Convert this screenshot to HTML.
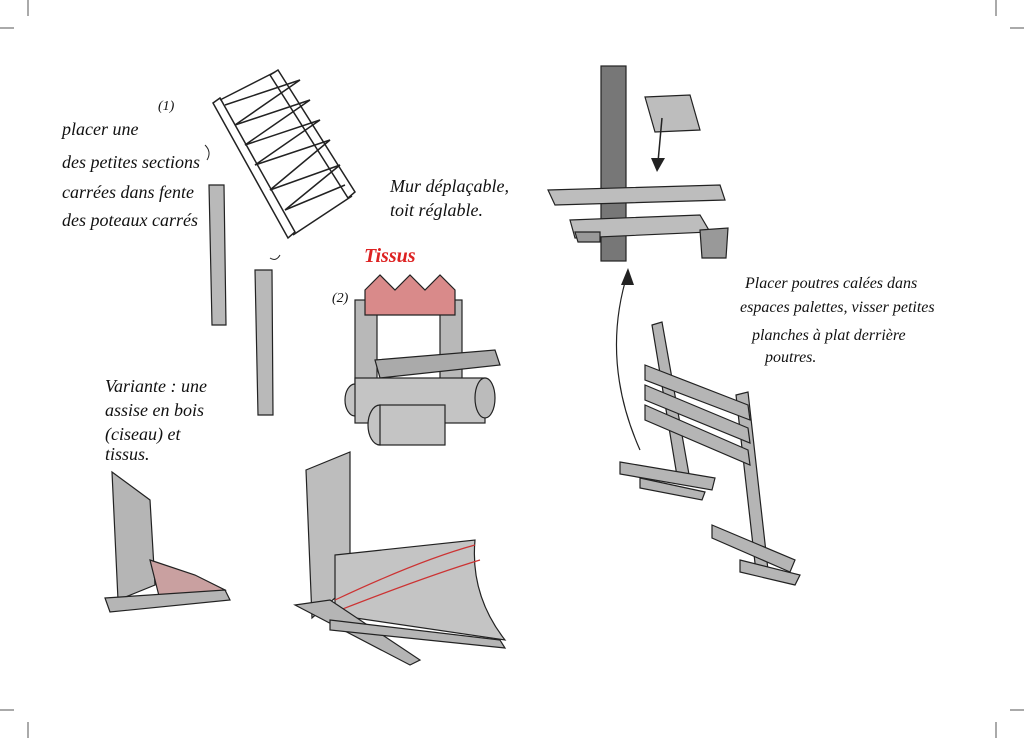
<!DOCTYPE html>
<html><head><meta charset="utf-8"><style>
html,body{margin:0;padding:0;background:#fff;width:1024px;height:738px;overflow:hidden}
svg{display:block}
text{font-family:"Liberation Serif",serif;font-style:italic;fill:#111}
</style></head><body>
<svg width="1024" height="738" viewBox="0 0 1024 738" xmlns="http://www.w3.org/2000/svg">
<rect width="1024" height="738" fill="#fff"/>
<g stroke="#555" stroke-width="1">
<line x1="28" y1="0" x2="28" y2="16"/><line x1="996" y1="0" x2="996" y2="16"/>
<line x1="0" y1="28" x2="14" y2="28"/><line x1="1010" y1="28" x2="1024" y2="28"/>
<line x1="28" y1="722" x2="28" y2="738"/><line x1="996" y1="722" x2="996" y2="738"/>
<line x1="0" y1="710" x2="14" y2="710"/><line x1="1010" y1="710" x2="1024" y2="710"/>
</g>

<g fill="none" stroke="#222" stroke-width="1.5">
<polygon points="213,103 220,98 295,232 288,238"/>
<polygon points="270,75 278,70 355,192 348,198"/>
<line x1="220" y1="100" x2="275" y2="72"/>
<line x1="293" y1="235" x2="352" y2="196"/>
<path d="M225,105 L300,80 L235,125 L310,100 L245,145 L320,120 L255,165 L330,140 L270,190 L340,165 L285,210 L345,185"/>
</g>
<text x="158" y="110" font-size="14">(1)</text>

<polygon points="209,185 224,185 226,325 212,325" fill="#b9b9b9" stroke="#222" stroke-width="1.2"/>
<polygon points="255,270 272,270 273,415 258,415" fill="#b9b9b9" stroke="#222" stroke-width="1.2"/>
<path d="M205,145 Q212,152 207,160" fill="none" stroke="#222"/>
<path d="M280,255 Q276,262 270,258" fill="none" stroke="#222"/>

<text x="332" y="302" font-size="14">(2)</text>
<g stroke="#222" stroke-width="1.2">
<rect x="355" y="300" width="22" height="110" fill="#b8b8b8"/>
<rect x="440" y="300" width="22" height="80" fill="#b8b8b8"/>
<polygon points="365,290 380,275 395,290 410,275 425,290 440,275 455,290 455,315 365,315" fill="#d98a8a"/>
<polygon points="375,360 495,350 500,365 380,378" fill="#aaa"/>
<ellipse cx="355" cy="400" rx="10" ry="16" fill="#c4c4c4"/>
<rect x="355" y="378" width="130" height="45" fill="#c4c4c4"/>
<ellipse cx="485" cy="398" rx="10" ry="20" fill="#bbb"/>
<ellipse cx="380" cy="425" rx="12" ry="20" fill="#c4c4c4"/>
<rect x="380" y="405" width="65" height="40" fill="#c4c4c4"/>
</g>

<g stroke="#222" stroke-width="1.2">
<rect x="601" y="66" width="25" height="195" fill="#777"/>
<polygon points="548,190 720,185 725,200 555,205" fill="#bdbdbd"/>
<polygon points="570,220 700,215 710,232 575,238" fill="#bdbdbd"/>
<polygon points="575,232 600,232 600,242 578,242" fill="#999"/>
<polygon points="700,230 728,228 726,258 702,258" fill="#999"/>
<polygon points="645,97 690,95 700,130 655,132" fill="#bdbdbd"/>
</g>
<line x1="662" y1="118" x2="658" y2="162" stroke="#222" stroke-width="1.5"/>
<polygon points="651,158 665,158 657,172" fill="#222"/>
<path d="M640,450 Q600,360 628,272" fill="none" stroke="#222" stroke-width="1.2"/>
<polygon points="621,285 634,285 628,268" fill="#222"/>

<g stroke="#222" stroke-width="1.2" fill="#b5b5b5">
<polygon points="652,325 662,322 690,480 678,482"/>
<polygon points="736,395 748,392 768,570 756,572"/>
<polygon points="645,365 748,405 750,420 645,380"/>
<polygon points="645,385 748,428 750,443 645,400"/>
<polygon points="645,405 748,450 750,465 645,420"/>
<polygon points="620,462 715,478 712,490 620,474"/>
<polygon points="640,478 705,492 702,500 640,488"/>
<polygon points="712,525 795,560 790,572 712,538"/>
<polygon points="740,560 800,575 795,585 740,572"/>
</g>

<g stroke="#222" stroke-width="1.2">
<polygon points="112,472 150,500 155,585 118,600" fill="#b5b5b5"/>
<polygon points="150,560 195,575 225,590 160,600" fill="#c9a0a0"/>
<polygon points="105,598 225,590 230,600 110,612" fill="#b5b5b5"/>
</g>

<g stroke="#222" stroke-width="1.2">
<polygon points="306,470 350,452 350,585 312,618" fill="#bdbdbd"/>
<path d="M335,555 L475,540 Q470,595 505,640 L335,615 Z" fill="#c4c4c4"/>
<path d="M335,600 Q420,560 475,545" fill="none" stroke="#c33"/>
<path d="M340,610 Q430,575 480,560" fill="none" stroke="#c33"/>
<polygon points="295,605 330,600 420,660 410,665" fill="#b5b5b5"/>
<polygon points="330,620 500,640 505,648 330,630" fill="#b5b5b5"/>
</g>

<g font-size="18">
<text x="62" y="135">placer une</text>
<text x="62" y="168">des petites sections</text>
<text x="62" y="198">carrées dans fente</text>
<text x="62" y="226">des poteaux carrés</text>
<text x="390" y="192">Mur déplaçable,</text>
<text x="390" y="216">toit réglable.</text>
<text x="105" y="392">Variante : une</text>
<text x="105" y="416">assise en bois</text>
<text x="105" y="440">(ciseau) et</text>
<text x="105" y="460">tissus.</text>
</g>
<text x="364" y="262" font-size="20" font-weight="bold" style="fill:#d22">Tissus</text>
<g font-size="16">
<text x="745" y="288">Placer poutres calées dans</text>
<text x="740" y="312">espaces palettes, visser petites</text>
<text x="752" y="340">planches à plat derrière</text>
<text x="765" y="362">poutres.</text>
</g>
</svg>
</body></html>
